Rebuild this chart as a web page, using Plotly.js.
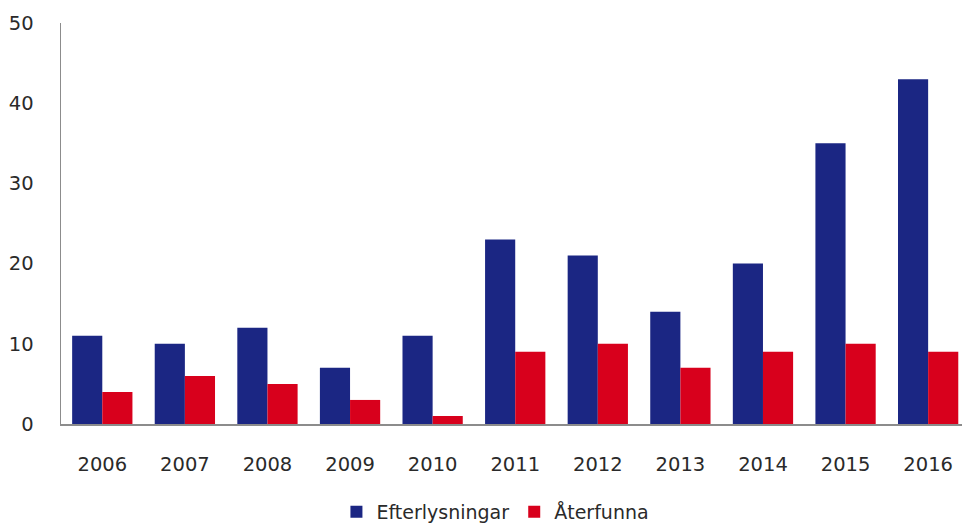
<!DOCTYPE html>
<html>
<head>
<meta charset="utf-8">
<script src="https://cdn.plot.ly/plotly-3.0.1.min.js"></script>
<style>html,body{margin:0;padding:0;background:#fff;}#chart{width:962px;height:526px;}</style>
</head>
<body>
<div id="chart"></div>
<script>
const years = ["2006","2007","2008","2009","2010","2011","2012","2013","2014","2015","2016"];
const efterlysningar = [11,10,12,7,11,23,21,14,20,35,43];
const aterfunna = [4,6,5,3,1,9,10,7,9,10,9];
const yTicks = [0,10,20,30,40,50];

const font = {family: "DejaVu Sans, Verdana, sans-serif", size: 19.5, color: "#2a2a2a"};
const legendFont = {family: "DejaVu Sans, Verdana, sans-serif", size: 19, color: "#2a2a2a"};

const data = [
  {type: "bar", name: "Efterlysningar", x: years, y: efterlysningar, marker: {color: "#1b2683"}},
  {type: "bar", name: "Återfunna", x: years, y: aterfunna, marker: {color: "#d8001c"}}
];

const layout = {
  width: 962, height: 526,
  margin: {l: 61, r: 0, t: 23, b: 102},
  paper_bgcolor: "#fff", plot_bgcolor: "#fff",
  barmode: "group", bargap: 0.27, bargroupgap: 0,
  font: font,
  showlegend: true,
  legend: {orientation: "h", xref: "container", yref: "container", x: 0.515, xanchor: "center", y: 0.027, yanchor: "middle", font: legendFont, itemwidth: 30, traceorder: "normal"},
  xaxis: {type: "category", range: [-0.5, 10.41], showline: true, linecolor: "#8c8c8c", linewidth: 1.5, showgrid: false, zeroline: false, ticks: "", tickfont: font, ticklabelstandoff: 22},
  yaxis: {range: [0, 50], tickvals: yTicks, showline: true, linecolor: "#8c8c8c", linewidth: 1.5, showgrid: false, zeroline: false, ticks: "", tickfont: font, ticklabelstandoff: 22}
};

Plotly.newPlot("chart", data, layout, {staticPlot: true, displayModeBar: false});
</script>
</body>
</html>
